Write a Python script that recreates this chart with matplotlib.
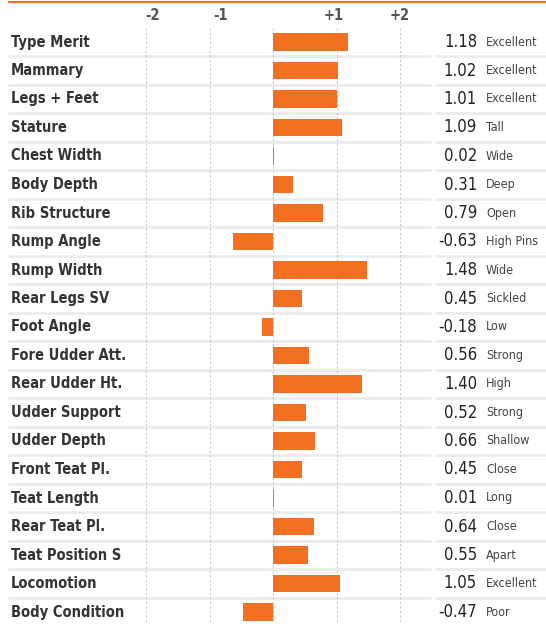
import matplotlib
matplotlib.use("Agg")
import matplotlib.pyplot as plt
from matplotlib import font_manager as fm

traits = ["Type Merit", "Mammary", "Legs + Feet", "Stature", "Chest Width", "Body Depth",
          "Rib Structure", "Rump Angle", "Rump Width", "Rear Legs SV", "Foot Angle",
          "Fore Udder Att.", "Rear Udder Ht.", "Udder Support", "Udder Depth",
          "Front Teat Pl.", "Teat Length", "Rear Teat Pl.", "Teat Position S",
          "Locomotion", "Body Condition"]
values = [1.18, 1.02, 1.01, 1.09, 0.02, 0.31, 0.79, -0.63, 1.48, 0.45, -0.18,
          0.56, 1.40, 0.52, 0.66, 0.45, 0.01, 0.64, 0.55, 1.05, -0.47]
descriptors = ["Excellent", "Excellent", "Excellent", "Tall", "Wide", "Deep", "Open",
               "High Pins", "Wide", "Sickled", "Low", "Strong", "High", "Strong",
               "Shallow", "Close", "Long", "Close", "Apart", "Excellent", "Poor"]
tick_values = [-2, -1, 1, 2]
tick_labels = ["-2", "-1", "+1", "+2"]

def find(bold):
    for f in fm.fontManager.ttflist:
        n = f.fname.lower()
        if ("condensed" in n or "narrow" in n) and "oblique" not in n and "italic" not in n:
            if ("bold" in n) == bold:
                return fm.FontProperties(fname=f.fname)
    return fm.FontProperties(family="Roboto", weight="bold" if bold else "normal")

fp_bold = find(True)
fp_reg = find(False)

W, H = 546, 624
fig = plt.figure(figsize=(W / 100, H / 100), dpi=100)
ax = fig.add_axes([0, 0, 1, 1])
ppu = 63.5
x0 = 273
ax.set_xlim(-x0 / ppu, (W - x0) / ppu)
row0, step = 42, 28.5
ax.set_ylim((H - row0) / step, -row0 / step)
ax.axis("off")

def px(xp):
    return (xp - x0) / ppu

def py(yp):
    return (yp - row0) / step

n = len(traits)
orange = "#f37023"
txt = "#333333"

ax.plot([px(8), px(W)], [py(1.5), py(1.5)], color=orange, lw=1.6, solid_capstyle="butt")

for i in range(n - 1):
    y = i + 0.5
    ax.plot([px(8), px(431)], [y, y], color="#ebebeb", lw=2, solid_capstyle="butt", zorder=1)
    ax.plot([px(435), px(W)], [y, y], color="#ebebeb", lw=2, solid_capstyle="butt", zorder=1)

for v in [-2, -1, 0, 1, 2]:
    ax.plot([v, v], [py(28), py(H)], color="#c8c8c8", lw=0.8, ls=(0, (2, 2)), zorder=1)

tick_offsets = {-2: 0.1, -1: 0.17, 1: -0.05, 2: 0.0}
for v, lab in zip(tick_values, tick_labels):
    ax.text(v + tick_offsets[v], py(16), lab, ha="center", va="center",
            fontproperties=fp_bold, fontsize=10.5, color="#555555")

ys = list(range(n))
ax.barh(ys, values, height=0.6, left=0, color=orange, zorder=3)

for i, (t, v, d) in enumerate(zip(traits, values, descriptors)):
    ax.text(px(11), i, t, ha="left", va="center", fontproperties=fp_bold, fontsize=10.5, color=txt)
    ax.text(px(477), i, f"{v:.2f}", ha="right", va="center", fontproperties=fp_reg, fontsize=12, color="#222222")
    ax.text(px(486), i, d, ha="left", va="center", fontproperties=fp_reg, fontsize=9, color="#444444")

fig.savefig("out.png", dpi=100)
